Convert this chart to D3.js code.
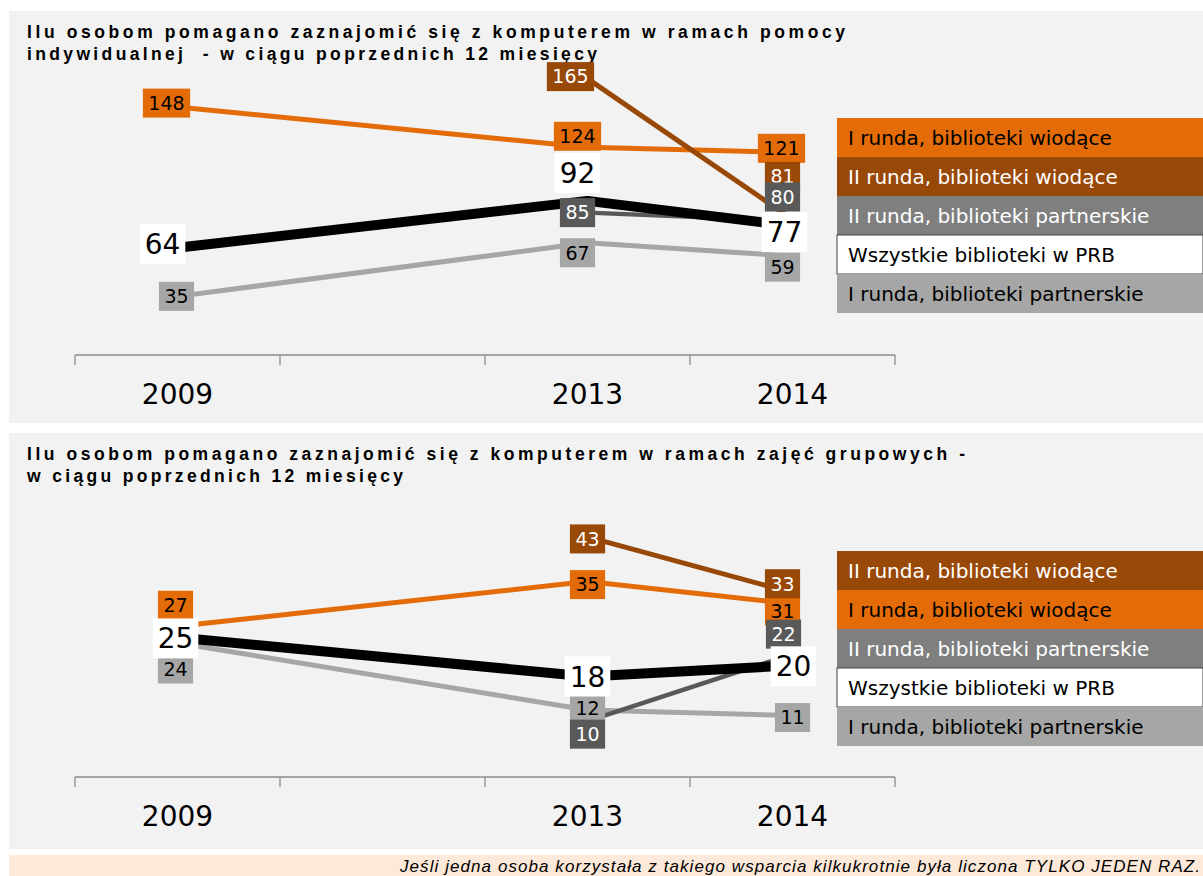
<!DOCTYPE html>
<html lang="pl">
<head>
<meta charset="UTF-8">
<title>Pomoc w zaznajomieniu się z komputerem</title>
<script src="https://d3js.org/d3.v7.min.js"></script>
<style>
  body { margin: 0; background: #fff; }
  .title { font: bold 17.5px "Liberation Sans", Arial, sans-serif; fill: #000; white-space: pre; }
  .year { font: 28px "DejaVu Sans", Verdana, sans-serif; fill: #000; }
  .legend text { font: 20px "DejaVu Sans", Verdana, sans-serif; }
  .lbl { font-family: "DejaVu Sans", Verdana, sans-serif; }
  .note { font: italic 17px "Liberation Sans", Arial, sans-serif; fill: #000; }
</style>
</head>
<body>
<script>
// kategorie osi X (pusta kategoria między 2009 a 2013)
const years = ["2009", "", "2013", "2014"];

const seriesNames = [
  "I runda, biblioteki wiodące",
  "II runda, biblioteki wiodące",
  "II runda, biblioteki partnerskie",
  "Wszystkie biblioteki w PRB",
  "I runda, biblioteki partnerskie"
];

// pomoc indywidualna
const indywIRundaWiod  = [148, null, 124, 121];
const indywIIRundaWiod = [null, null, 165, 81];
const indywIIRundaPart = [null, null, 85, 80];
const indywWszystkie   = [64, null, 92, 77];
const indywIRundaPart  = [35, null, 67, 59];

// zajęcia grupowe
const grupIRundaWiod  = [27, null, 35, 31];
const grupIIRundaWiod = [null, null, 43, 33];
const grupIIRundaPart = [null, null, 10, 22];
const grupWszystkie   = [25, null, 18, 20];
const grupIRundaPart  = [24, null, 12, 11];

const titles1 = ["Ilu osobom pomagano zaznajomić się z komputerem w ramach pomocy",
                 "indywidualnej  - w ciągu poprzednich 12 miesięcy"];
const titles2 = ["Ilu osobom pomagano zaznajomić się z komputerem w ramach zajęć grupowych -",
                 "w ciągu poprzednich 12 miesięcy"];
const note = "Jeśli jedna osoba korzystała z takiego wsparcia kilkukrotnie była liczona TYLKO JEDEN RAZ.";

// wygląd serii (kolejność jak seriesNames)
const styles = [
  { line: "#e36c09", box: "#e36c09", text: "#000", leg: "#e36c09", legText: "#000", w: 5 },
  { line: "#984807", box: "#984807", text: "#fff", leg: "#984807", legText: "#fff", w: 5 },
  { line: "#595959", box: "#595959", text: "#fff", leg: "#7f7f7f", legText: "#fff", w: 4.5 },
  { line: "#000",    box: "#fff",    text: "#000", leg: "#fff",    legText: "#000", w: 10, big: true },
  { line: "#a6a6a6", box: "#a6a6a6", text: "#000", leg: "#a6a6a6", legText: "#000", w: 5 }
];

// przesunięcia etykiet względem punktu [dx, dy]
const offs1 = [
  [[-11, -4], null, [-10, -11], [-11, -4]],
  [null, null, [-17, -2], [-10, -43]],
  [null, null, [-10, 0], [-10, -24]],
  [[-15, -4], null, [-10, -28], [-8, 6]],
  [[-1, 0], null, [-10, 10], [-10, 11]]
];
const offs2 = [
  [[-2, -21], null, [0, 3], [-10, 7]],
  [null, null, [0, 2], [-10, -9]],
  [null, null, [0, 13], [-9, -20]],
  [[-2, 1], null, [0, 0], [1, 1]],
  [[-2, 26], null, [0, -2], [0, 2]]
];

const W = 1203, H = 876;
const svg = d3.select("body").append("svg")
  .attr("width", W).attr("height", H);

function panel(cfg) {
  const g = svg.append("g");
  g.append("rect").attr("x", 9).attr("y", cfg.top).attr("width", W - 9)
    .attr("height", cfg.height).attr("fill", "#f2f2f2");

  cfg.titles.forEach((t, i) => {
    g.append("text").attr("class", "title")
      .attr("x", 27).attr("y", cfg.titleY + i * 22)
      .attr("textLength", cfg.titleW[i]).attr("lengthAdjust", "spacing")
      .text(t);
  });

  const x = d3.scaleBand().domain(years).range([75, 895]).padding(0);
  const y = d3.scaleLinear().domain([0, cfg.max]).range([cfg.axisY, cfg.axisY - 335]);
  const cx = d => x(d) + x.bandwidth() / 2;

  // oś
  g.append("line").attr("x1", x.range()[0]).attr("x2", x.range()[1])
    .attr("y1", cfg.axisY).attr("y2", cfg.axisY)
    .attr("stroke", "#8c8c8c").attr("stroke-width", 1.3);
  const tickX = years.map(d => x(d)).concat([x.range()[1]]);
  g.selectAll(".tick").data(tickX).enter().append("line")
    .attr("x1", d => d).attr("x2", d => d)
    .attr("y1", cfg.axisY).attr("y2", cfg.axisY + 10)
    .attr("stroke", "#8c8c8c").attr("stroke-width", 1.3);
  g.selectAll(".year").data(years.filter(d => d !== "")).enter().append("text")
    .attr("class", "year").attr("text-anchor", "middle")
    .attr("x", d => cx(d)).attr("y", cfg.axisY + 49)
    .text(d => d);

  const series = cfg.data.map((vals, si) => ({
    si,
    pts: vals.map((v, i) => ({ v, cat: years[i], off: cfg.offs[si][i] })).filter(p => p.v != null)
  }));

  const line = d3.line().x(p => cx(p.cat)).y(p => y(p.v));
  [4, 2, 0, 1, 3].forEach(si => {
    g.append("path").datum(series[si].pts)
      .attr("fill", "none").attr("stroke", styles[si].line)
      .attr("stroke-width", styles[si].w).attr("stroke-linejoin", "round")
      .attr("d", line);
  });

  // etykiety danych
  [4, 0, 1, 2, 3].forEach(si => {
    const st = styles[si];
    const fs = st.big ? 28 : 19;
    const bh = st.big ? 40 : 29;
    series[si].pts.forEach(p => {
      const px = cx(p.cat) + p.off[0], py = y(p.v) + p.off[1];
      const lg = g.append("g");
      const r = lg.append("rect").attr("fill", st.box);
      const t = lg.append("text").attr("class", "lbl")
        .attr("font-size", fs).attr("fill", st.text)
        .attr("text-anchor", "middle")
        .attr("x", px).attr("y", py + fs * 0.36)
        .text(p.v);
      const tw = t.node().getComputedTextLength();
      const bw = tw + (st.big ? 10 : 11);
      r.attr("x", px - bw / 2).attr("y", py - bh / 2).attr("width", bw).attr("height", bh);
    });
  });

  // legenda
  const leg = g.append("g").attr("class", "legend");
  cfg.legendOrder.forEach((si, i) => {
    const st = styles[si];
    const ty = cfg.legendY + i * 39;
    leg.append("rect").attr("x", 837).attr("y", ty).attr("width", W - 837).attr("height", 39)
      .attr("fill", st.leg)
      .attr("stroke", st.leg === "#fff" ? "#404040" : "none").attr("stroke-width", 1);
    leg.append("text").attr("x", 848).attr("y", ty + 27)
      .attr("fill", st.legText).text(seriesNames[si]);
  });
}

panel({
  top: 11, height: 412, titleY: 38, titles: titles1, titleW: [818, 570],
  axisY: 355, max: 200,
  data: [indywIRundaWiod, indywIIRundaWiod, indywIIRundaPart, indywWszystkie, indywIRundaPart],
  offs: offs1, legendOrder: [0, 1, 2, 3, 4], legendY: 118
});

panel({
  top: 433, height: 416, titleY: 460, titles: titles2, titleW: [938, 376],
  axisY: 777, max: 60,
  data: [grupIRundaWiod, grupIIRundaWiod, grupIIRundaPart, grupWszystkie, grupIRundaPart],
  offs: offs2, legendOrder: [1, 0, 2, 3, 4], legendY: 551
});

// przypis
svg.append("rect").attr("x", 9).attr("y", 855).attr("width", W - 9).attr("height", H - 855)
  .attr("fill", "#fde9d9");
svg.append("text").attr("class", "note")
  .attr("x", 400).attr("y", 872).attr("textLength", 800).attr("lengthAdjust", "spacing")
  .text(note);
</script>
</body>
</html>
